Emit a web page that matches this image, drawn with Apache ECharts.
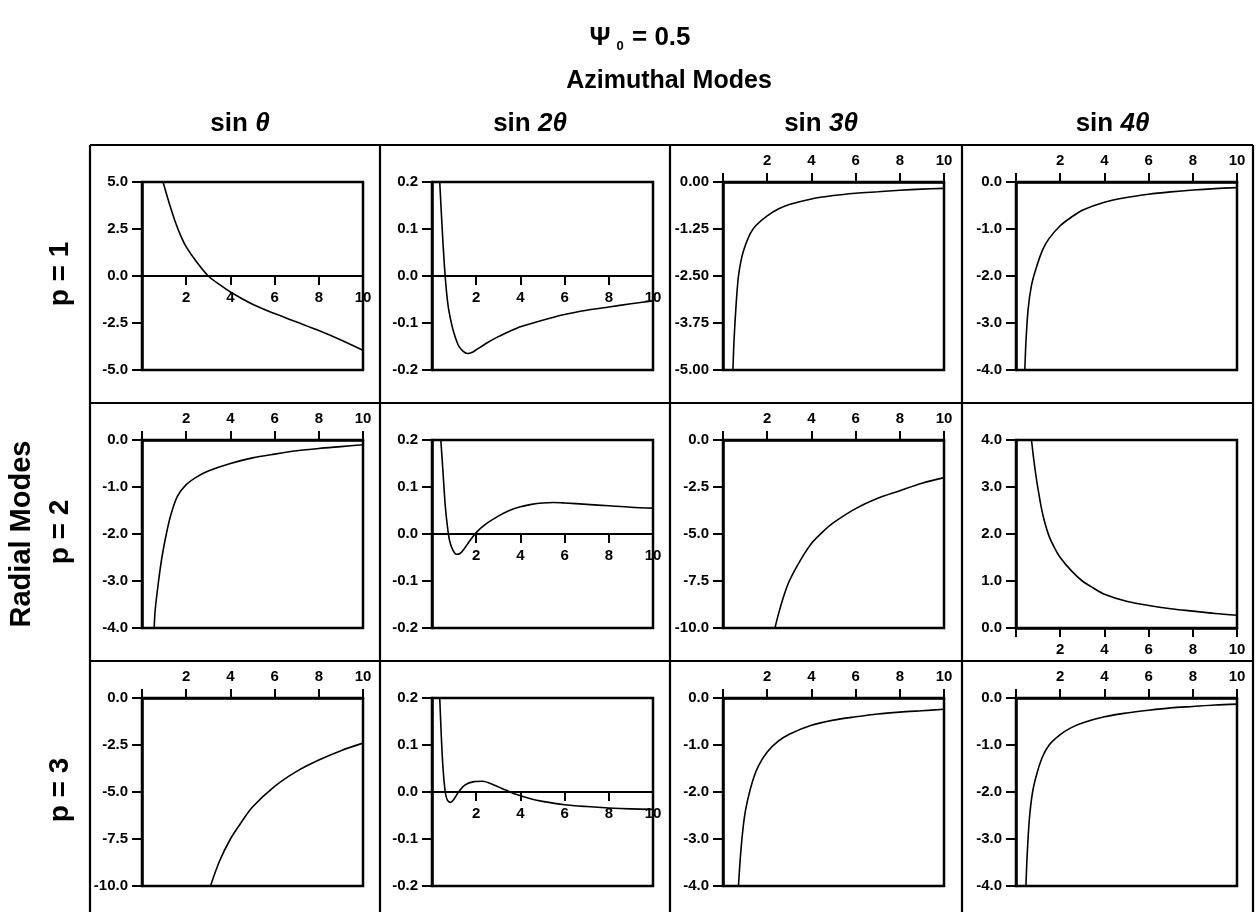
<!DOCTYPE html>
<html>
<head>
<meta charset="utf-8">
<script src="https://cdn.jsdelivr.net/npm/echarts@6/dist/echarts.min.js"></script>
<style>
html, body { margin: 0; padding: 0; background: #fff; }
#chart { width: 1260px; height: 912px; }
</style>
</head>
<body>
<div id="chart"></div>
<script>
// 方位模式 / 径向模式 标签
var colModes = ['θ', '2θ', '3θ', '4θ'];
var rowModes = ['p = 1', 'p = 2', 'p = 3'];
var xTicks = [0, 2, 4, 6, 8, 10];

// p = 1
var p1Sin1 = [[0.95,5.0],[1.05,4.6],[1.25,3.8],[1.5,2.9],[1.75,2.15],[2,1.55],[2.5,0.7],[3,0.0],[3.5,-0.45],[4,-0.85],[5,-1.5],[6,-2.0],[7,-2.45],[8,-2.9],[9,-3.4],[10,-3.95]];
var p1Sin2 = [[0.35,0.2],[0.45,0.11],[0.55,0.03],[0.65,-0.03],[0.75,-0.07],[0.9,-0.105],[1.05,-0.13],[1.2,-0.148],[1.4,-0.16],[1.6,-0.165],[1.8,-0.163],[2.0,-0.157],[2.5,-0.142],[3,-0.129],[3.5,-0.118],[4,-0.108],[5,-0.094],[6,-0.082],[7,-0.073],[8,-0.066],[9,-0.059],[10,-0.053]];
var p1Sin3 = [[0.45,-5.0],[0.5,-4.2],[0.6,-3.2],[0.7,-2.5],[0.85,-2.0],[1.0,-1.7],[1.25,-1.35],[1.5,-1.15],[2,-0.9],[2.5,-0.72],[3,-0.6],[4,-0.45],[5,-0.36],[6,-0.3],[7,-0.26],[8,-0.22],[9,-0.19],[10,-0.17]];
var p1Sin4 = [[0.4,-4.0],[0.45,-3.4],[0.55,-2.7],[0.7,-2.2],[0.9,-1.85],[1.2,-1.45],[1.5,-1.2],[2,-0.93],[2.5,-0.75],[3,-0.6],[4,-0.43],[5,-0.33],[6,-0.26],[7,-0.21],[8,-0.17],[9,-0.14],[10,-0.12]];

// p = 2
var p2Sin1 = [[0.55,-4.0],[0.6,-3.6],[0.75,-3.0],[0.9,-2.5],[1.1,-2.0],[1.3,-1.6],[1.6,-1.2],[2,-0.95],[2.5,-0.78],[3,-0.66],[4,-0.5],[5,-0.38],[6,-0.3],[7,-0.23],[8,-0.18],[9,-0.14],[10,-0.1]];
var p2Sin2 = [[0.4,0.2],[0.5,0.13],[0.6,0.06],[0.7,0.015],[0.8,-0.015],[0.95,-0.035],[1.1,-0.043],[1.25,-0.042],[1.45,-0.032],[1.7,-0.015],[2.0,0.003],[2.4,0.02],[3,0.038],[3.5,0.05],[4,0.058],[4.5,0.063],[5,0.066],[5.5,0.067],[6,0.066],[7,0.063],[8,0.06],[9,0.057],[10,0.055]];
var p2Sin3 = [[2.35,-10.0],[2.5,-9.3],[2.75,-8.3],[3,-7.5],[3.5,-6.4],[4,-5.5],[4.5,-4.9],[5,-4.4],[6,-3.65],[7,-3.1],[8,-2.7],[9,-2.3],[10,-2.0]];
var p2Sin4 = [[0.7,4.0],[0.8,3.6],[0.9,3.25],[1.0,2.95],[1.15,2.55],[1.3,2.25],[1.5,1.95],[1.75,1.7],[2,1.5],[2.5,1.22],[3,1.0],[3.5,0.85],[4,0.72],[5,0.57],[6,0.48],[7,0.41],[8,0.36],[9,0.31],[10,0.27]];

// p = 3
var p3Sin1 = [[3.1,-10.0],[3.5,-8.7],[4,-7.5],[4.5,-6.6],[5,-5.8],[6,-4.7],[7,-3.9],[8,-3.3],[9,-2.8],[10,-2.4]];
var p3Sin2 = [[0.35,0.2],[0.42,0.12],[0.5,0.05],[0.6,0.0],[0.7,-0.018],[0.85,-0.022],[1.0,-0.015],[1.2,0.0],[1.5,0.015],[1.9,0.022],[2.3,0.023],[2.8,0.015],[3.3,0.005],[3.8,-0.005],[4.5,-0.015],[5,-0.02],[6,-0.027],[7,-0.031],[8,-0.034],[9,-0.036],[10,-0.037]];
var p3Sin3 = [[0.7,-4.0],[0.8,-3.3],[0.95,-2.6],[1.1,-2.2],[1.35,-1.75],[1.6,-1.45],[2,-1.15],[2.5,-0.92],[3,-0.77],[4,-0.58],[5,-0.47],[6,-0.4],[7,-0.34],[8,-0.3],[9,-0.27],[10,-0.24]];
var p3Sin4 = [[0.45,-4.0],[0.5,-3.4],[0.6,-2.6],[0.75,-2.0],[0.95,-1.6],[1.2,-1.25],[1.5,-1.0],[2,-0.78],[2.5,-0.63],[3,-0.53],[4,-0.4],[5,-0.32],[6,-0.26],[7,-0.21],[8,-0.18],[9,-0.15],[10,-0.13]];

// 各面板的 y 轴范围 [min, max, interval]
var yRanges = [
	[[-5, 5, 2.5], [-0.2, 0.2, 0.1], [-5, 0, 1.25], [-4, 0, 1]],
	[[-4, 0, 1], [-0.2, 0.2, 0.1], [-10, 0, 2.5], [0, 4, 1]],
	[[-10, 0, 2.5], [-0.2, 0.2, 0.1], [-4, 0, 1], [-4, 0, 1]]
];
var yDecimals = [[1, 1, 2, 1], [1, 1, 1, 1], [1, 1, 1, 1]];
// x 轴位置: zero=穿过 0, top=顶部, bottom=底部
var xPlaces = [
	['zero', 'zero', 'top', 'top'],
	['top', 'zero', 'top', 'bottom'],
	['top', 'zero', 'top', 'top']
];
var curves = [
	[p1Sin1, p1Sin2, p1Sin3, p1Sin4],
	[p2Sin1, p2Sin2, p2Sin3, p2Sin4],
	[p3Sin1, p3Sin2, p3Sin3, p3Sin4]
];

var FONT = '"Liberation Sans", Arial, sans-serif';
var colLeft = [142, 432, 723, 1016];
var rowTop = [182, 440, 698];
var plotW = 221, plotH = 188;
var colLines = [90, 380, 670, 962, 1253];
var rowLines = [145, 403, 661];

function makeFormatter(d) {
	return function (v) { return v.toFixed(d); };
}

var grids = [], xAxes = [], yAxes = [], seriesList = [];
for (var r = 0; r < 3; r++) {
	for (var c = 0; c < 4; c++) {
		var idx = grids.length;
		var place = xPlaces[r][c];
		var range = yRanges[r][c];
		// 穿过 0 的 x 轴: 用 offset 把轴线、刻度和标签一起移到 y=0 处
		var zeroOffset = place === 'zero' ? -plotH * (0 - range[0]) / (range[1] - range[0]) : 0;
		grids.push({
			left: colLeft[c], top: rowTop[r], width: plotW, height: plotH,
			show: true, borderColor: '#000', borderWidth: 2.5, backgroundColor: 'transparent'
		});
		xAxes.push({
			gridIndex: idx, type: 'value', min: xTicks[0], max: xTicks[xTicks.length - 1], interval: 2,
			position: place === 'top' ? 'top' : 'bottom',
			offset: zeroOffset,
			axisLine: { show: true, onZero: false, lineStyle: { color: '#000', width: place === 'zero' ? 1.8 : 2.5 } },
			axisTick: { show: true, length: 9, lineStyle: { color: '#000', width: 2 } },
			axisLabel: {
				color: '#000', fontFamily: FONT, fontWeight: 'bold', fontSize: 15, margin: 14,
				formatter: function (v) { return v === 0 ? '' : String(v); }
			},
			splitLine: { show: false }
		});
		yAxes.push({
			gridIndex: idx, type: 'value', min: range[0], max: range[1], interval: range[2],
			axisLine: { show: true, onZero: false, lineStyle: { color: '#000', width: 2.5 } },
			axisTick: { show: true, length: 10, lineStyle: { color: '#000', width: 2 } },
			axisLabel: {
				color: '#000', fontFamily: FONT, fontWeight: 'bold', fontSize: 15, margin: 14,
				formatter: makeFormatter(yDecimals[r][c])
			},
			splitLine: { show: false }
		});
		seriesList.push({
			type: 'line', xAxisIndex: idx, yAxisIndex: idx,
			data: curves[r][c], showSymbol: false, smooth: 0.3, clip: true,
			lineStyle: { color: '#000', width: 1.6 }, silent: true
		});
	}
}

// 表格线与文字
var graphics = [];
colLines.forEach(function (x) {
	graphics.push({ type: 'line', shape: { x1: x, y1: rowLines[0], x2: x, y2: 912 }, style: { stroke: '#000', lineWidth: 2.2 } });
});
rowLines.forEach(function (y) {
	graphics.push({ type: 'line', shape: { x1: colLines[0], y1: y, x2: colLines[colLines.length - 1], y2: y }, style: { stroke: '#000', lineWidth: 2.2 } });
});
rowModes.forEach(function (t, i) {
	graphics.push({
		type: 'text', x: 60, y: (rowLines[i] + (rowLines[i + 1] || 919)) / 2, rotation: Math.PI / 2,
		style: { text: t, fill: '#000', font: 'bold 28px ' + FONT, textAlign: 'center', textVerticalAlign: 'middle' }
	});
});
graphics.push({
	type: 'text', x: 22, y: 534, rotation: Math.PI / 2,
	style: { text: 'Radial Modes', fill: '#000', font: 'bold 29px ' + FONT, textAlign: 'center', textVerticalAlign: 'middle' }
});
graphics.push({ type: 'text', x: 600, y: 38, style: { text: 'Ψ', fill: '#000', font: 'bold 26px ' + FONT, textAlign: 'center', textVerticalAlign: 'middle' } });
graphics.push({ type: 'text', x: 620, y: 46, style: { text: '0', fill: '#000', font: 'bold 13px ' + FONT, textAlign: 'center', textVerticalAlign: 'middle' } });
graphics.push({ type: 'text', x: 632, y: 38, style: { text: '= 0.5', fill: '#000', font: 'bold 26px ' + FONT, textAlign: 'left', textVerticalAlign: 'middle' } });

var titles = [{
	text: 'Azimuthal Modes', left: 664, top: 64, textAlign: 'center',
	textStyle: { color: '#000', fontFamily: FONT, fontWeight: 'bold', fontSize: 25 }
}];
colModes.forEach(function (m, i) {
	titles.push({
		text: '{b|sin }{i|' + m + '}', left: (colLines[i] + colLines[i + 1]) / 2, top: 106, textAlign: 'center',
		textStyle: {
			rich: {
				b: { color: '#000', fontFamily: FONT, fontWeight: 'bold', fontSize: 26 },
				i: { color: '#000', fontFamily: FONT, fontWeight: 'bold', fontStyle: 'italic', fontSize: 26 }
			}
		}
	});
});

var myChart = echarts.init(document.getElementById('chart'));
myChart.setOption({
	animation: false,
	backgroundColor: '#fff',
	title: titles,
	grid: grids,
	xAxis: xAxes,
	yAxis: yAxes,
	series: seriesList,
	graphic: graphics
});
</script>
</body>
</html>
